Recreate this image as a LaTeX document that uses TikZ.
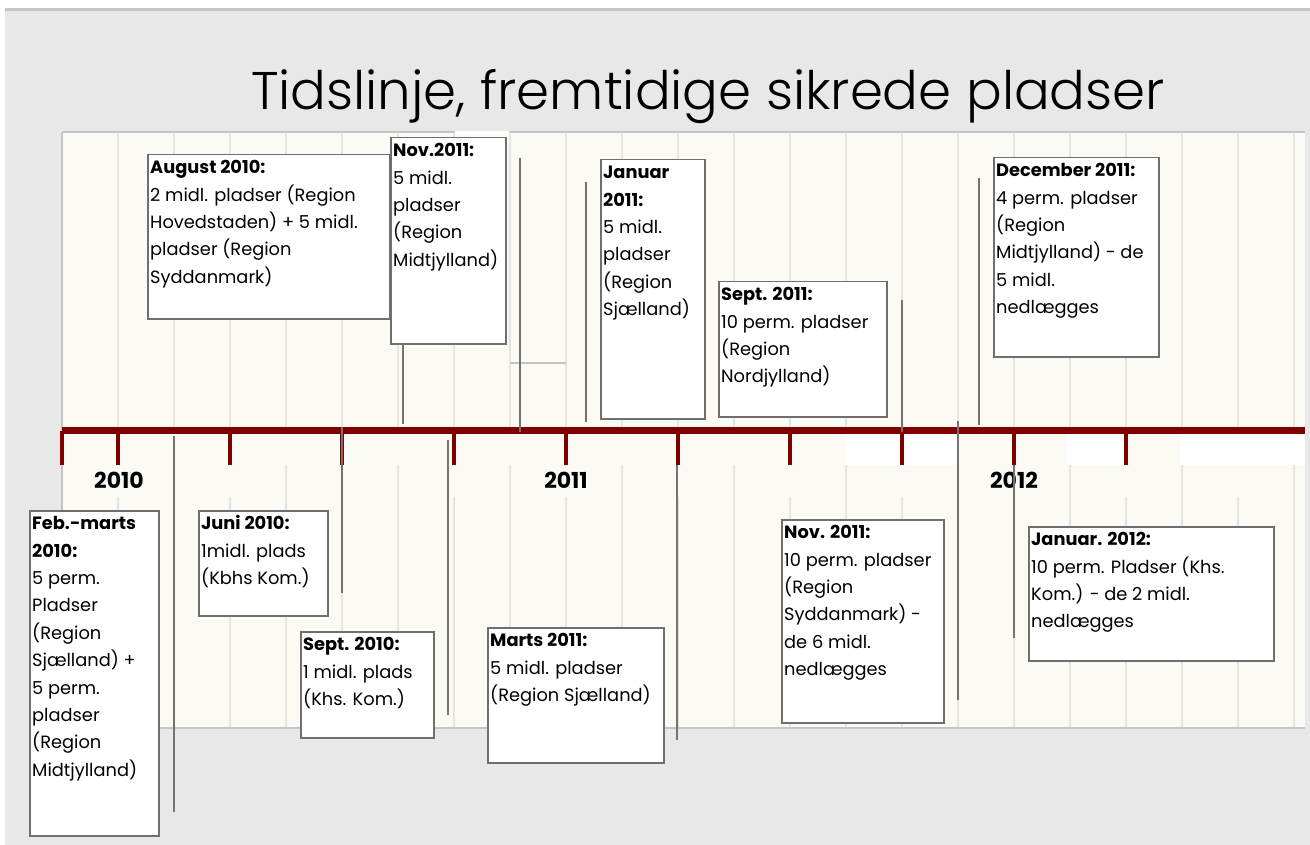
\documentclass[tikz,border=0pt]{standalone}
\usepackage{fontspec}
\newfontfamily\bodyfont{Poppins}
\newfontfamily\titlefont{Poppins Light}
\definecolor{bggray}{HTML}{E8E8E8}
\definecolor{lineg}{HTML}{C4C4C4}
\definecolor{cream}{HTML}{FCFAF4}
\definecolor{gridg}{HTML}{E4E4E4}
\definecolor{axisred}{HTML}{800000}
\definecolor{boxg}{HTML}{6F6F6F}
\definecolor{conng}{HTML}{737373}
\tikzset{
  evframe/.style={draw=boxg, line width=1.5pt, fill=white, inner sep=0pt},
  evtext/.style={font=\bodyfont\fontsize{17.8}{27.4}\selectfont, align=left, inner sep=0pt, anchor=north west},
  gridline/.style={draw=gridg, line width=2pt},
  framel/.style={draw=lineg, line width=2.5pt},
  axisline/.style={draw=axisred, line width=6.5pt},
  tickline/.style={draw=axisred, line width=4.5pt},
  conn/.style={draw=conng, line width=1.6pt},
  yearlbl/.style={font=\bodyfont\bfseries\fontsize{22}{24}\selectfont, inner sep=0pt},
  titlestyle/.style={font=\titlefont\fontsize{53}{60}\selectfont, inner sep=0pt, anchor=base}
}
\newcommand{\evbox}[6]{%
  \node[evframe, minimum width={#4-#2}, minimum height={#5-#3}, anchor=north west] (#1) at (#2,#3) {};
  \node[evtext] (#1t) at (#2+3,#3+5) {\rule{0pt}{14.5pt}#6};
}
\newcommand{\vconn}[4]{%
  \coordinate (#1a) at (#2,#3);
  \coordinate (#1b) at (#2,#4);
  \draw[conn] (#1a) -- (#1b);
}
\begin{document}
\begin{tikzpicture}[x=1pt,y=-1pt]
\useasboundingbox (0,0) rectangle (1310,845);
\fill[white] (0,0) rectangle (1310,845);
\fill[bggray] (5,10) rectangle (1310,845);
\draw[draw=lineg, line width=3pt] (5,10) -- (1310,10);
% chart area
\fill[cream] (62,132) rectangle (1305,728);
\fill[white] (845,434) rectangle (956,465);
\fill[white] (1067,434) rectangle (1123,465);
\fill[white] (1180,434) rectangle (1305,465);
\foreach \x in {118,174,...,1294} \draw[gridline] (\x,134) -- (\x,428);
\foreach \x in {118,230,...,1294} \draw[gridline] (\x,497) -- (\x,727);
\foreach \x in {174,286,...,1294} \draw[gridline] (\x,465) -- (\x,727);
\draw[framel] (62,132) -- (455,132);
\draw[draw=white, line width=2.5pt] (455,132) -- (509,132);
\draw[framel] (509,132) -- (1305,132);
\draw[framel] (62,132) -- (62,728) -- (1305,728);
\draw[framel] (510,363) -- (566,363);
% title
\node[titlestyle] (title) at (708,110) {Tidslinje, fremtidige sikrede pladser};
% axis
\coordinate (axL) at (62,430.5);
\coordinate (axR) at (1305,430.5);
\draw[axisline] (axL) -- (axR);
\foreach \x in {62,118,230,342,454,566,678,790,902,1014,1126} \draw[tickline] (\x,431) -- (\x,465);
\node[yearlbl] (y2010) at (119,480) {2010};
\node[yearlbl] (y2011) at (566,480) {2011};
\node[yearlbl] (y2012) at (1014,480) {2012};
% connectors
\vconn{c1}{403}{343}{424}
\vconn{c2}{520}{158}{432}
\vconn{c3}{586}{182}{422}
\vconn{c4}{902}{300}{432}
\vconn{c5}{979}{178}{425}
\vconn{c6}{958}{421}{700}
\vconn{c7}{174}{436}{812}
\vconn{c8}{342}{427}{593}
\vconn{c9}{448}{440}{715}
\vconn{c10}{677}{465}{740}
\vconn{c11}{1014}{465}{638}
% boxes
\evbox{aug}{147}{154}{389}{318}{\textbf{August 2010:}\\2 midl. pladser (Region\\Hovedstaden) + 5 midl.\\pladser (Region\\Syddanmark)}
\evbox{novA}{390}{137}{505}{343}{\textbf{Nov.2011:}\\5 midl.\\pladser\\(Region\\Midtjylland)}
\evbox{janA}{600}{159}{704}{418}{\textbf{Januar}\\\textbf{2011:}\\5 midl.\\pladser\\(Region\\Sjælland)}
\evbox{sepA}{718}{281}{886}{416}{\textbf{Sept. 2011:}\\10 perm. pladser\\(Region\\Nordjylland)}
\evbox{decA}{993}{157}{1158}{356}{\textbf{December 2011:}\\4 perm. pladser\\(Region\\Midtjylland) - de\\5 midl.\\nedlægges}
\evbox{febB}{29}{510}{158}{835}{\textbf{Feb.-marts}\\\textbf{2010:}\\5 perm.\\Pladser\\(Region\\Sjælland) +\\5 perm.\\pladser\\(Region\\Midtjylland)}
\evbox{junB}{198}{510}{327}{615}{\textbf{Juni 2010:}\\1midl. plads\\(Kbhs Kom.)}
\evbox{sepB}{300}{631}{433}{737}{\textbf{Sept. 2010:}\\1 midl. plads\\(Khs. Kom.)}
\evbox{marB}{487}{627}{663}{762}{\textbf{Marts 2011:}\\5 midl. pladser\\(Region Sjælland)}
\evbox{novB}{781}{519}{943}{722}{\textbf{Nov. 2011:}\\10 perm. pladser\\(Region\\Syddanmark) -\\de 6 midl.\\nedlægges}
\evbox{janB}{1028}{526}{1273}{660}{\textbf{Januar. 2012:}\\10 perm. Pladser (Khs.\\Kom.) - de 2 midl.\\nedlægges}
\end{tikzpicture}
\end{document}
